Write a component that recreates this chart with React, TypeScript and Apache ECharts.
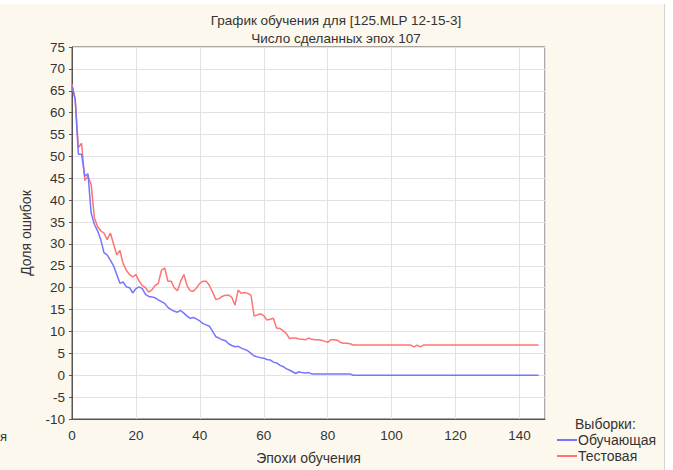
import React, { useEffect, useRef } from "react";
import * as echarts from "echarts";

const titleLines = ["График обучения для [125.MLP 12-15-3]", "Число сделанных эпох 107"];
const xTicks = [0, 20, 40, 60, 80, 100, 120, 140];
const seriesNames = ["Обучающая", "Тестовая"];

// Training error per epoch (0..146)
const trainErr = [
  66, 63, 50.5, 50.5, 45.5, 46, 37, 34.5, 33, 31,
  28, 27.5, 26.3, 25, 23, 21, 21.3, 20.2, 20, 18.8,
  19.8, 20.2, 19.8, 18.5, 18, 17.9, 17.7, 17.2, 16.8, 16.4,
  15.5, 15, 14.6, 14.4, 14.8, 14.2, 13.5, 13, 13.2, 12.8,
  12.4, 11.8, 11.5, 11.2, 10, 8.8, 8.5, 8.1, 7.9, 7.2,
  6.8, 6.5, 6.6, 6.2, 5.9, 5.6, 5, 4.4, 4.2, 4,
  3.9, 3.6, 3.5, 3, 2.8, 2.3, 2, 1.5, 1.2, 0.8,
  0.4, 0.8, 0.6, 0.5, 0.6, 0.3, 0.3, 0.3, 0.3, 0.3,
  0.3, 0.3, 0.3, 0.3, 0.3, 0.3, 0.3, 0.3, 0, 0,
  0, 0, 0, 0, 0, 0, 0, 0, 0, 0,
  0, 0, 0, 0, 0, 0, 0, 0, 0, 0,
  0, 0, 0, 0, 0, 0, 0, 0, 0, 0,
  0, 0, 0, 0, 0, 0, 0, 0, 0, 0,
  0, 0, 0, 0, 0, 0, 0, 0, 0, 0,
  0, 0, 0, 0, 0, 0, 0,
];

// Test error per epoch (0..146)
const testErr = [
  66.5, 63, 52, 53, 44.5, 45.5, 43.5, 36, 34, 33,
  32.5, 31, 32.5, 30, 27.5, 28.5, 25.5, 24, 23, 22.5,
  23, 21.5, 20.5, 20, 19, 19.5, 20.5, 21, 24, 24.5,
  21.5, 21.5, 20, 19.3, 21.5, 23, 20.5, 19.3, 19.2, 20,
  21, 21.5, 21.5, 20.5, 19, 17.3, 17.5, 18, 18.3, 18.3,
  17.8, 16, 19.5, 18.7, 18.9, 18.7, 18.3, 13.5, 13.8, 14,
  13.6, 12.6, 12.8, 13, 10.8, 10.7, 10.2, 9.6, 8.4, 8.5,
  8.5, 8.3, 8.2, 8.1, 8.5, 8.2, 8.1, 8.1, 8, 7.8,
  7.5, 8.1, 8.1, 8, 7.5, 7.3, 7.3, 7.2, 6.9, 6.9,
  6.9, 6.9, 6.9, 6.9, 6.9, 6.9, 6.9, 6.9, 6.9, 6.9,
  6.9, 6.9, 6.9, 6.9, 6.9, 6.9, 6.9, 6.5, 6.9, 6.5,
  6.9, 6.9, 6.9, 6.9, 6.9, 6.9, 6.9, 6.9, 6.9, 6.9,
  6.9, 6.9, 6.9, 6.9, 6.9, 6.9, 6.9, 6.9, 6.9, 6.9,
  6.9, 6.9, 6.9, 6.9, 6.9, 6.9, 6.9, 6.9, 6.9, 6.9,
  6.9, 6.9, 6.9, 6.9, 6.9, 6.9, 6.9,
];

const FONT = "'Liberation Sans', Arial, sans-serif";
const TXT = "#333";

export default function App() {
  const ref = useRef<HTMLDivElement>(null);
  useEffect(() => {
    if (!ref.current) return;
    const chart = echarts.init(ref.current, undefined, { renderer: "svg" });
    chart.setOption({
      animation: false,
      backgroundColor: "#fdf8ed",
      textStyle: { fontFamily: FONT },
      title: {
        text: titleLines.join("\n"),
        left: 331,
        textAlign: "center",
        top: 6,
        textStyle: { fontSize: 13.5, fontWeight: "normal", color: TXT, lineHeight: 18, fontFamily: FONT },
      },
      graphic: [
        { type: "rect", shape: { x: 0, y: 0, width: 673, height: 4 }, style: { fill: "#ffffff" }, silent: true },
        { type: "rect", shape: { x: 665, y: 0, width: 8, height: 470 }, style: { fill: "#ffffff" }, silent: true },
        { type: "line", shape: { x1: 664.5, y1: 4, x2: 664.5, y2: 470 }, style: { stroke: "#d8d4cc", lineWidth: 1 }, silent: true },
        { type: "text", x: 0, y: 430, style: { text: "я", fontSize: 13, fill: TXT, fontFamily: FONT } },
        { type: "text", x: 575, y: 417, style: { text: "Выборки:", fontSize: 14, fill: TXT, fontFamily: FONT } },
      ],
      legend: {
        data: seriesNames,
        orient: "vertical",
        left: 557,
        top: 432,
        height: 60,
        padding: 0,
        itemWidth: 20,
        itemHeight: 2,
        itemGap: 0,
        icon: "rect",
        textStyle: { fontSize: 14, lineHeight: 16, color: TXT, fontFamily: FONT, padding: [0, 0, 0, -4] },
      },
      grid: {
        left: 72,
        right: 128,
        top: 47,
        bottom: 51,
        show: true,
        backgroundColor: "#ffffff",
        borderColor: "#555",
        borderWidth: 1,
      },
      xAxis: {
        type: "value",
        min: 0,
        max: 148,
        interval: 20,
        name: "Эпохи обучения",
        nameLocation: "middle",
        nameGap: 32,
        nameTextStyle: { fontSize: 14, color: TXT, fontFamily: FONT },
        axisLine: { show: true, onZero: false, lineStyle: { color: "#555" } },
        axisTick: { show: false },
        axisLabel: { fontSize: 13.5, color: TXT, margin: 9, showMaxLabel: false, fontFamily: FONT,
          formatter: (v: number) => (xTicks.includes(v) ? String(v) : "") },
        splitLine: { show: true, lineStyle: { color: "#e2e2e2" } },
      },
      yAxis: {
        type: "value",
        min: -10,
        max: 75,
        interval: 5,
        name: "Доля ошибок",
        nameLocation: "middle",
        nameGap: 39,
        nameRotate: 90,
        nameTextStyle: { fontSize: 14, color: TXT, fontFamily: FONT },
        axisLine: { show: true, onZero: false, lineStyle: { color: "#555" } },
        axisTick: { show: true, length: 3, lineStyle: { color: "#555" } },
        axisLabel: { fontSize: 13.5, color: TXT, margin: 7, fontFamily: FONT },
        splitLine: { show: true, lineStyle: { color: "#e2e2e2" } },
      },
      series: [
        {
          name: seriesNames[0],
          type: "line",
          data: trainErr.map((v, i) => [i, v]),
          showSymbol: false,
          lineStyle: { color: "#7575ff", width: 1.5 },
          itemStyle: { color: "#7575ff" },
          z: 3,
        },
        {
          name: seriesNames[1],
          type: "line",
          data: testErr.map((v, i) => [i, v]),
          showSymbol: false,
          lineStyle: { color: "#ff7373", width: 1.5 },
          itemStyle: { color: "#ff7373" },
          z: 2,
        },
      ],
    });
    return () => chart.dispose();
  }, []);
  return (
    <div
      ref={ref}
      style={{ position: "fixed", left: 0, top: 0, width: 673, height: 470 }}
    />
  );
}
